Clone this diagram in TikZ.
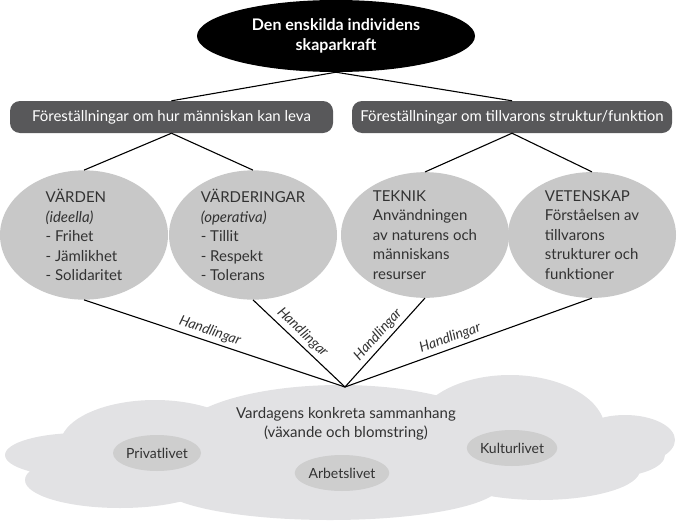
\documentclass[tikz,border=0pt]{standalone}
\usepackage{fontspec}
\setmainfont{Lato}
\usetikzlibrary{shapes.geometric}
\definecolor{boxgray}{RGB}{88,88,90}
\definecolor{valgray}{RGB}{200,200,200}
\definecolor{cloudgray}{RGB}{226,226,228}
\definecolor{lifegray}{RGB}{206,206,206}
\definecolor{txtgray}{RGB}{50,50,50}
\begin{document}
\begin{tikzpicture}[x=1pt,y=-1pt,
    idea/.style={rounded corners=10pt,fill=boxgray,text=white,minimum height=32pt,inner sep=0pt,font=\fontsize{15}{18}\selectfont},
    value/.style={ellipse,fill=valgray,text=txtgray,minimum width=168pt,minimum height=124pt,inner sep=0pt,align=left,font=\fontsize{15}{19.5}\selectfont},
    life/.style={ellipse,fill=lifegray,text=txtgray,minimum width=88pt,minimum height=36pt,inner sep=0pt,font=\fontsize{14}{17}\selectfont},
    act/.style={sloped,above,text=txtgray,font=\fontsize{14}{16}\selectfont\itshape},
    conn/.style={line width=1.1pt}]
  \useasboundingbox (0,0) rectangle (679,522);
  % cloud
  \foreach \cx/\cy/\rx/\ry in {340/440/165pt/55pt, 510/430/95pt/55pt, 625/440/50pt/25pt,
      155/445/95pt/45pt, 80/455/75pt/22pt, 120/480/95pt/28pt, 330/485/170pt/35pt,
      540/470/100pt/30pt, 610/455/55pt/22pt}
    \fill[cloudgray] (\cx,\cy) ellipse [x radius=\rx, y radius=\ry];
  \node[ellipse,fill=black,text=white,minimum width=278pt,minimum height=72pt,inner sep=0pt,
    align=center,font=\fontsize{16}{20}\selectfont\bfseries] (top) at (336,36)
    {Den enskilda individens\\skaparkraft};
  \node[idea,minimum width=323pt] (human) at (171.5,117) {Föreställningar om hur människan kan leva};
  \node[idea,minimum width=320pt] (world) at (512,117) {Föreställningar om tillvarons struktur/funktion};
  \node[value] (varden) at (84,235) {VÄRDEN\\\textit{(ideella)}\\- Frihet\\- Jämlikhet\\- Solidaritet};
  \node[value] (vardering) at (253,235) {VÄRDERINGAR\\\textit{(operativa)}\\- Tillit\\- Respekt\\- Tolerans};
  \node[value] (teknik) at (425,235) {TEKNIK\\Användningen\\av naturens och\\människans\\resurser};
  \node[value] (vetenskap) at (592,235) {VETENSKAP\\Förståelsen av\\tillvarons\\strukturer och\\funktioner};
  \coordinate (meet) at (345,387);
  \node[text=txtgray,align=center,font=\fontsize{15}{18.5}\selectfont] (everyday) at (346,424)
    {Vardagens konkreta sammanhang\\(växande och blomstring)};
  \node[life] (privat) at (157,453) {Privatlivet};
  \node[life] (arbete) at (342,473) {Arbetslivet};
  \node[life] (kultur) at (512,448) {Kulturlivet};
  \draw[conn] (top.south) -- (human.north);
  \draw[conn] (top.south) -- (world.north);
  \draw[conn] (human.south) -- (varden.north);
  \draw[conn] (human.south) -- (vardering.north);
  \draw[conn] (world.south) -- (teknik.north);
  \draw[conn] (world.south) -- (vetenskap.north);
  \draw[conn] (varden.south) -- node[act,pos=0.47] {Handlingar} (meet);
  \draw[conn] (vardering.south) -- node[act,pos=0.46] {Handlingar} (meet);
  \draw[conn] (teknik.south) -- node[act,pos=0.49] {Handlingar} (meet);
  \draw[conn] (vetenskap.south) -- node[act,pos=0.56] {Handlingar} (meet);
\end{tikzpicture}
\end{document}
